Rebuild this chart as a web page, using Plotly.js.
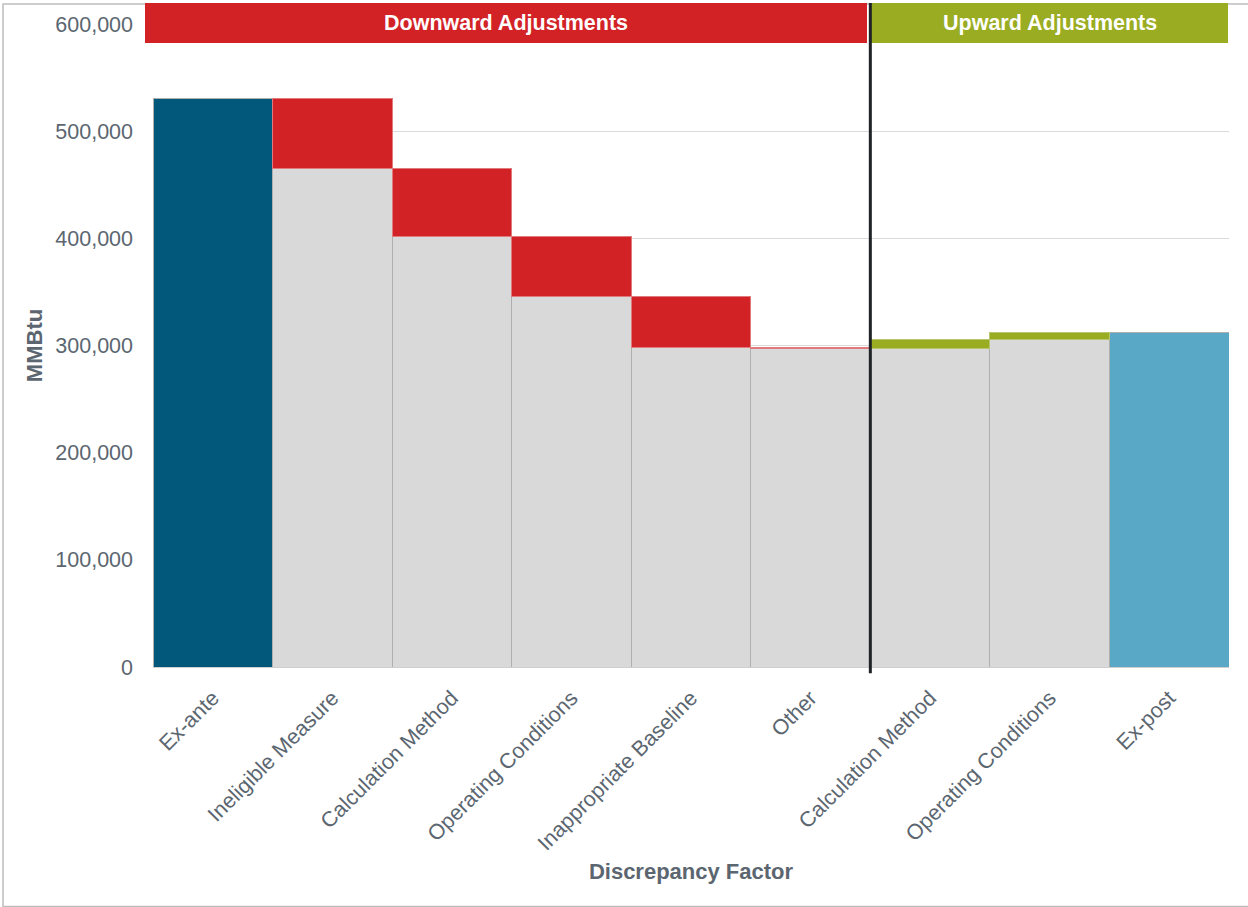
<!DOCTYPE html>
<html>
<head>
<meta charset="utf-8">
<script src="https://cdn.plot.ly/plotly-3.0.1.min.js"></script>
<style>
html,body{margin:0;padding:0;background:#fff;}
#chart{width:1248px;height:907px;}
</style>
</head>
<body>
<div id="chart"></div>
<script>
// ---- data ----
const categories = ["Ex-ante", "Ineligible Measure", "Calculation Method", "Operating Conditions",
                    "Inappropriate Baseline", "Other", "Calculation Method", "Operating Conditions", "Ex-post"];
const exAnte = 530800;
const adjustments = [-65700, -63800, -55800, -47000, -1500, 9000, 6300];
const yTickVals = [0, 100000, 200000, 300000, 400000, 500000, 600000];
const yTickText = ["0", "100,000", "200,000", "300,000", "400,000", "500,000", "600,000"];
const groupLabels = ["Downward Adjustments", "Upward Adjustments"];

// ---- build waterfall (stacked) ----
const xIdx = categories.map((_, i) => i);
const baseVals = [exAnte];
const deltaVals = [0];
const deltaColors = ["rgba(0,0,0,0)"];
let running = exAnte;
adjustments.forEach(a => {
  const next = running + a;
  if (a < 0) { baseVals.push(next); deltaVals.push(-a); deltaColors.push("#D22226"); }
  else { baseVals.push(running); deltaVals.push(a); deltaColors.push("#9AAC22"); }
  running = next;
});
const exPost = running;
baseVals.push(exPost); deltaVals.push(0); deltaColors.push("rgba(0,0,0,0)");

const baseColors = baseVals.map((_, i) => i === 0 ? "#02587A" : (i === baseVals.length - 1 ? "#58A8C6" : "#D9D9D9"));

const textColor = "#5B6670";
const font = "Liberation Sans, Arial, sans-serif";

const traces = [
  {
    type: "bar", x: xIdx, y: baseVals,
    marker: { color: baseColors, line: { color: "#AFAFAF", width: 1 } },
    hoverinfo: "skip", showlegend: false
  },
  {
    type: "bar", x: xIdx, y: deltaVals,
    marker: { color: deltaColors, line: { color: deltaColors.map(c => c === "#D22226" ? "#E07A7C" : (c === "#9AAC22" ? "#B8C670" : "rgba(0,0,0,0)")), width: 1 } },
    hoverinfo: "skip", showlegend: false
  }
];

// pixel helpers for paper coords (plot area: x 153..1229, y 24..666.7)
const L = 153, R = 1229, T = 24, B = 666.7;
const px = v => (v - L) / (R - L);
const py = v => (B - v) / (B - T);

const layout = {
  width: 1248, height: 907,
  margin: { l: L, r: 1248 - R, t: T, b: 907 - B },
  paper_bgcolor: "#ffffff", plot_bgcolor: "#ffffff",
  barmode: "stack", bargap: 0,
  font: { family: font, color: textColor },
  xaxis: {
    range: [-0.5, 8.5],
    tickvals: xIdx, ticktext: categories,
    tickangle: -45,
    tickfont: { size: 21.5, color: textColor, family: font },
    ticks: "", showgrid: false, zeroline: false,
    showline: true, linecolor: "#CFCFCF", linewidth: 1,
    ticklabelstandoff: 9,
    title: { text: "Discrepancy Factor", font: { size: 22, color: textColor, family: font, weight: "bold" }, standoff: 9 },
    automargin: false, fixedrange: true
  },
  yaxis: {
    range: [0, 600000],
    tickvals: yTickVals, ticktext: yTickText,
    tickfont: { size: 21.5, color: textColor, family: font },
    ticks: "", showgrid: true, gridcolor: "#DADADA", gridwidth: 1,
    zeroline: false, showline: false,
    ticklabelstandoff: 19,
    title: { text: "MMBtu", font: { size: 22, color: textColor, family: font, weight: "bold" }, standoff: 6 },
    automargin: false, fixedrange: true
  },
  shapes: [
    // outer frame
    { type: "rect", xref: "paper", yref: "paper", x0: px(3), x1: px(1260), y0: py(906), y1: py(4),
      line: { color: "#BDBDBD", width: 1.5 }, fillcolor: "rgba(0,0,0,0)", layer: "below" },
    // header bands
    { type: "rect", xref: "paper", yref: "paper", x0: px(145), x1: px(867), y0: py(43), y1: py(3),
      line: { width: 0 }, fillcolor: "#D22226", layer: "above" },
    { type: "rect", xref: "paper", yref: "paper", x0: px(871), x1: px(1228), y0: py(43), y1: py(3),
      line: { width: 0 }, fillcolor: "#9AAC22", layer: "above" },
    // divider line between downward and upward adjustments
    { type: "line", xref: "x", yref: "paper", x0: 5.5, x1: 5.5, y0: py(673), y1: py(3),
      line: { color: "#1F2226", width: 3 }, layer: "above" }
  ],
  annotations: [
    { xref: "paper", yref: "paper", x: (px(145) + px(867)) / 2, y: py(23), text: groupLabels[0],
      showarrow: false, xanchor: "center", yanchor: "middle",
      font: { size: 21.5, color: "#ffffff", family: font, weight: "bold" } },
    { xref: "paper", yref: "paper", x: (px(871) + px(1228)) / 2, y: py(23), text: groupLabels[1],
      showarrow: false, xanchor: "center", yanchor: "middle",
      font: { size: 21.5, color: "#ffffff", family: font, weight: "bold" } }
  ]
};

Plotly.newPlot("chart", traces, layout, { displayModeBar: false, staticPlot: true });
</script>
</body>
</html>
